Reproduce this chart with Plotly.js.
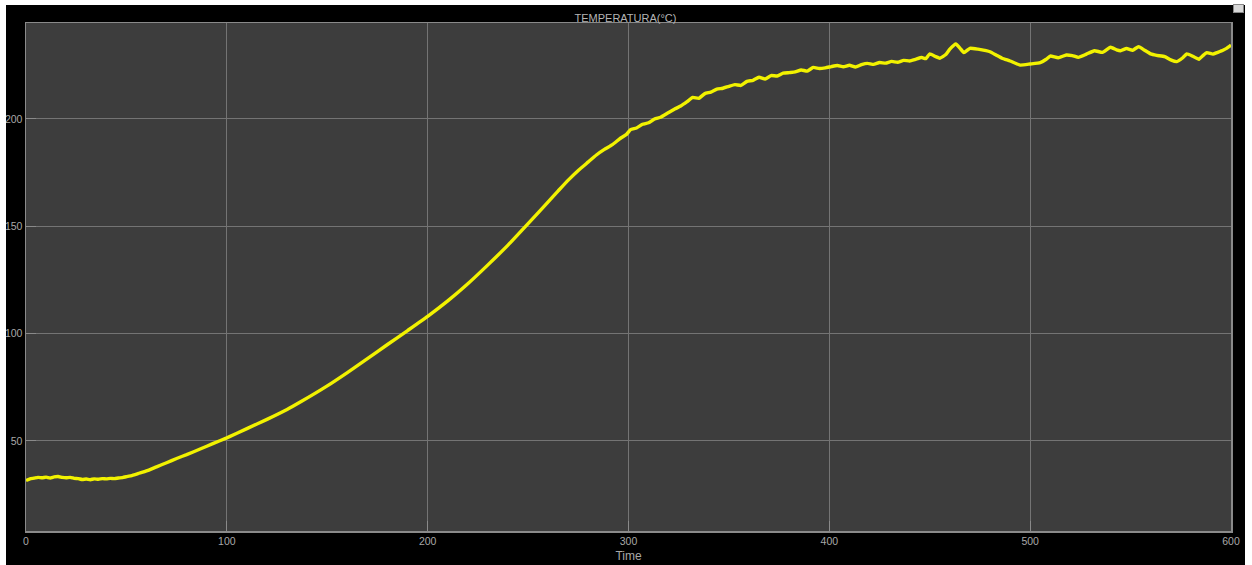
<!DOCTYPE html>
<html>
<head>
<meta charset="utf-8">
<script src="https://cdn.plot.ly/plotly-3.0.1.min.js"></script>
<style>
html,body{margin:0;padding:0;background:#ffffff;width:1252px;height:565px;overflow:hidden;}
#frame{position:absolute;left:6px;top:5px;width:1239px;height:560px;background:#000;}
#chart{width:1239px;height:560px;}
</style>
</head>
<body>
<div id="frame"><div id="chart"></div></div>
<script>
const chartTitle = "TEMPERATURA(°C)";
const xTitle = "Time";
const xTicks = [0, 100, 200, 300, 400, 500, 600];
const yTicks = [50, 100, 150, 200];

const timeValues = [
  0, 2, 4, 6, 8, 10, 12, 14, 16, 18, 20, 22, 24, 26, 28, 30, 32, 34, 36, 38, 40, 42, 44, 46, 48, 50,
  53, 56, 60, 65, 70, 75, 80, 87, 93, 100, 110, 120, 130, 137, 150, 160, 170, 180, 190, 200,
  210, 220, 230, 240, 250, 260, 265, 270, 275, 280, 284, 288, 292, 296, 299, 301, 304, 307, 310, 313, 316,
  320, 323, 326, 329, 332, 335, 338, 341, 344, 347, 350, 353, 356, 359, 362, 365, 368, 371, 374, 377,
  380, 383, 386, 389, 392, 395, 398, 401, 404, 407, 410, 413, 416, 419, 422, 425, 428, 431, 434, 437,
  440, 443, 446, 448, 450, 453, 455, 458, 460, 463, 465, 467, 470, 474, 478, 480, 483, 486, 490, 495,
  500, 505, 508, 510, 514, 518, 521, 524, 528, 532, 536, 540, 543, 545, 548, 551, 554, 557, 560, 563,
  567, 570, 573, 576, 578, 581, 584, 586, 588, 591, 593, 596, 598, 600
];

const temperatureValues = [
  31.5, 32.3, 32.6, 33.0, 32.8, 33.1, 32.7, 33.2, 33.4, 33.0, 32.8, 33.0, 32.5, 32.4, 32.0, 32.2, 31.9, 32.3, 32.1, 32.4, 32.3, 32.5, 32.4, 32.7, 32.9, 33.3,
  33.9, 34.8, 36.0, 37.9, 39.8, 41.8, 43.6, 46.3, 48.7, 51.4, 55.7, 60.0, 64.6, 68.3, 75.6, 81.8, 88.3, 94.9, 101.4, 108.0,
  115.2, 123.2, 132.0, 141.2, 151.2, 161.4, 166.5, 171.5, 176.0, 180.0, 183.2, 185.8, 188.0, 191.0, 192.8, 195.0, 195.8, 197.5, 198.2, 200.0, 200.8,
  203.0, 204.6, 206.0, 207.9, 210.0, 209.6, 211.8, 212.5, 213.9, 214.3, 215.2, 216.0, 215.6, 217.5, 218.0, 219.4, 218.6, 220.2, 220.0, 221.3,
  221.6, 221.9, 222.8, 222.3, 224.0, 223.5, 223.8, 224.4, 224.9, 224.3, 225.0, 224.2, 225.3, 225.9, 225.4, 226.3, 226.0, 226.8, 226.4, 227.3,
  227.0, 227.8, 228.6, 228.1, 230.3, 229.0, 228.3, 230.0, 232.5, 234.9, 233.0, 230.9, 232.9, 232.5, 231.8, 231.3, 229.8, 228.3, 227.0, 225.1,
  225.6, 226.2, 227.8, 229.3, 228.5, 229.8, 229.5, 228.7, 230.2, 231.8, 231.0, 233.4, 232.2, 231.8, 232.8, 232.0, 233.7, 232.0, 230.3, 229.6,
  229.0, 227.5, 226.7, 228.5, 230.3, 229.2, 227.8, 229.5, 230.9, 230.2, 230.9, 232.0, 233.0, 234.4
];

const gridColor = "#747474";
const tickFont = {family: "Liberation Sans, Arial, sans-serif", size: 10.5, color: "#a8a8a8"};

const trace = {
  x: timeValues,
  y: temperatureValues,
  type: "scatter",
  mode: "lines",
  line: {color: "#f2f200", width: 3.4, shape: "spline", smoothing: 0.4},
  hoverinfo: "skip"
};

const layout = {
  width: 1239,
  height: 560,
  paper_bgcolor: "#000000",
  plot_bgcolor: "#3d3d3d",
  margin: {l: 20, r: 14, t: 18, b: 34, pad: 0},
  showlegend: false,
  title: {
    text: chartTitle,
    font: {family: "Liberation Sans, Arial, sans-serif", size: 11, color: "#b4b4b4"},
    x: 0.5, xanchor: "center",
    y: 1, yref: "paper", yanchor: "bottom", pad: {b: 1}
  },
  xaxis: {
    range: [0, 600],
    tickvals: xTicks,
    ticktext: xTicks.map(String),
    showgrid: true,
    gridcolor: gridColor,
    gridwidth: 1,
    zeroline: false,
    showline: true,
    linecolor: "#8a8a8a",
    linewidth: 1.5,
    mirror: true,
    ticks: "inside",
    ticklen: 10,
    tickcolor: "#8a8a8a",
    tickfont: tickFont,
    title: {text: xTitle, font: {family: "Liberation Sans, Arial, sans-serif", size: 12, color: "#a8a8a8"}, standoff: 5},
    fixedrange: true
  },
  yaxis: {
    range: [8, 244.7],
    tickvals: yTicks,
    ticktext: yTicks.map(String),
    showgrid: true,
    gridcolor: gridColor,
    gridwidth: 1,
    zeroline: false,
    showline: true,
    linecolor: "#8a8a8a",
    linewidth: 1.5,
    mirror: true,
    ticks: "inside",
    ticklen: 10,
    tickcolor: "#8a8a8a",
    tickfont: tickFont,
    fixedrange: true
  }
};

Plotly.newPlot("chart", [trace], layout, {displayModeBar: false, staticPlot: true});
</script>
<div style="position:absolute;left:1233px;top:4px;width:11px;height:9px;background:#d8d8d8;border:1px solid #888;box-sizing:border-box;"></div>
</body>
</html>
